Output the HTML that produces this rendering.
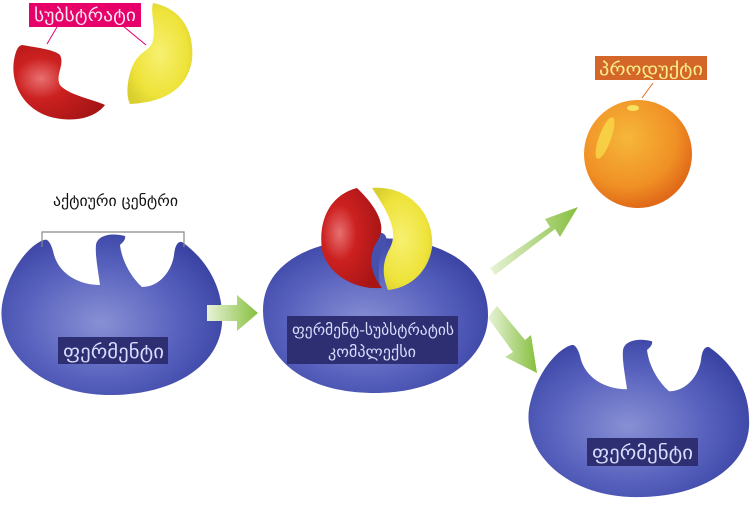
<!DOCTYPE html>
<html><head><meta charset="utf-8"><style>
html,body{margin:0;padding:0;background:#fff;}
svg text{font-family:"DejaVu Sans","Liberation Sans",sans-serif;}
</style></head><body>
<svg width="750" height="510" viewBox="0 0 750 510" xmlns="http://www.w3.org/2000/svg">
<defs>
<radialGradient id="blue" cx="0.45" cy="0.55" r="0.6">
<stop offset="0" stop-color="#8890d4"/><stop offset="0.6" stop-color="#5761bd"/><stop offset="1" stop-color="#3a43a3"/>
</radialGradient>
<radialGradient id="red" cx="0.3" cy="0.45" r="0.7">
<stop offset="0" stop-color="#e87070"/><stop offset="0.4" stop-color="#cc2020"/><stop offset="1" stop-color="#a81515"/>
</radialGradient>
<radialGradient id="yel" cx="0.5" cy="0.5" r="0.6">
<stop offset="0" stop-color="#f7f070"/><stop offset="0.7" stop-color="#eee33a"/><stop offset="1" stop-color="#d9cf30"/>
</radialGradient>
<radialGradient id="org" cx="0.4" cy="0.35" r="0.65">
<stop offset="0" stop-color="#f6b73a"/><stop offset="0.7" stop-color="#f09025"/><stop offset="1" stop-color="#e06a18"/>
</radialGradient>
<linearGradient id="g1" x1="0" x2="1"><stop offset="0" stop-color="#e8f3d8"/><stop offset="1" stop-color="#86bf3e"/></linearGradient>
<path id="enz" d="M44,240 C48,238 52,245 54,255 C60,275 80,285 100,285 C98,270 95,255 96,245 C97,236 110,232 125,236 C126,240 122,243 120,245 C122,262 132,278 142,287 C160,287 172,270 174,255 C175,245 178,241 182,242 C205,258 222,285 222,315 C225,360 180,395 110,395 C40,395 -4,350 2,305 C8,270 30,244 44,240 Z"/>
</defs>

<!-- substrates top-left -->
<path d="M22,45 C40,48 55,50 60,55 C65,65 55,75 60,85 C68,95 95,100 105,105 C95,118 75,122 55,118 C25,112 10,85 14,60 C16,50 18,46 22,45 Z" fill="url(#red)"/>
<path d="M153,3 C180,8 195,30 192,60 C188,85 170,102 130,104 C125,95 128,75 133,65 C140,50 150,52 153,40 C156,28 150,12 153,3 Z" fill="url(#yel)"/>
<line x1="47" y1="44" x2="57" y2="27" stroke="#e8006a" stroke-width="1"/>
<line x1="123" y1="26" x2="146" y2="45" stroke="#e8006a" stroke-width="1"/>
<rect x="29" y="3" width="112" height="24" fill="#e8006a"/>
<text x="34" y="21" font-size="17" fill="#f5e6ef" textLength="102" lengthAdjust="spacingAndGlyphs">სუბსტრატი</text>

<!-- enzyme 1 -->
<use href="#enz" fill="url(#blue)"/>
<path d="M42,247 V232 H184 V247" fill="none" stroke="#888" stroke-width="1.2"/>
<text x="53" y="206" font-size="15" fill="#111" textLength="125" lengthAdjust="spacingAndGlyphs">აქტიური ცენტრი</text>
<rect x="58" y="337" width="110" height="27" fill="#2e2f72"/>
<text x="63" y="358" font-size="19" fill="#d8dcff" textLength="101" lengthAdjust="spacingAndGlyphs">ფერმენტი</text>

<!-- arrow 1 -->
<polygon points="207,305 237,305 237,295 258,313 237,331 237,321 207,321" fill="url(#g1)"/>

<!-- enzyme 2 -->
<path d="M263,310 C263,270 300,240 375,238 C450,238 488,270 488,315 C488,360 440,393 375,393 C305,393 263,360 263,310 Z" fill="url(#blue)"/>
<path d="M362,240 C372,228 392,230 385,245 C378,258 378,270 380,288 L368,288 C362,270 358,252 362,240Z" fill="#4750ad"/>
<path d="M357,188 C330,195 318,220 322,250 C328,275 355,290 382,288 C372,275 366,258 378,240 C386,228 380,210 357,188 Z" fill="url(#red)"/>
<path d="M372,188 C410,185 435,215 432,248 C428,272 410,288 388,290 C382,275 382,262 390,248 C398,232 390,215 372,188 Z" fill="url(#yel)"/>
<rect x="287" y="316" width="171" height="48" fill="#2e2f72"/>
<text x="292" y="335" font-size="15" fill="#d8dcff" textLength="162" lengthAdjust="spacingAndGlyphs">ფერმენტ-სუბსტრატის</text>
<text x="328" y="357" font-size="15" fill="#d8dcff" textLength="88" lengthAdjust="spacingAndGlyphs">კომპლექსი</text>

<!-- arrows 2,3 -->
<polygon points="490,268 550,227 545,219 578,207 560,237 555,229 495,275" fill="url(#g1)"/>
<polygon points="492,312 497,306 525,340 531,335 537,373 505,357 513,352 488,318" fill="url(#g1)"/>

<!-- product -->
<circle cx="638" cy="154" r="54" fill="url(#org)"/>
<ellipse cx="605" cy="138" rx="6" ry="22" fill="#f8d84a" opacity="0.8" transform="rotate(20 605 138)"/>
<ellipse cx="633" cy="108" rx="6" ry="3" fill="#f8e060"/>
<line x1="642" y1="98" x2="653" y2="83" stroke="#d86a1e" stroke-width="1"/>
<rect x="595" y="56" width="112" height="24" fill="#d5662a"/>
<text x="599" y="75" font-size="17" fill="#f8f08a" textLength="104" lengthAdjust="spacingAndGlyphs">პროდუქტი</text>

<!-- enzyme 3 -->
<use href="#enz" fill="url(#blue)" transform="translate(527,110) scale(1,0.98)"/>
<rect x="587" y="438" width="111" height="28" fill="#2e2f72"/>
<text x="592" y="459" font-size="19" fill="#d8dcff" textLength="101" lengthAdjust="spacingAndGlyphs">ფერმენტი</text>
</svg>
</body></html>
